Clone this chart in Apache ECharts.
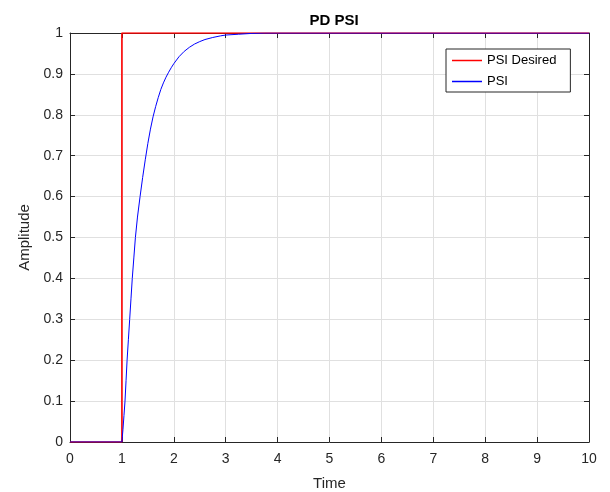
<!DOCTYPE html>
<html>
<head>
<meta charset="utf-8">
<script src="https://cdn.jsdelivr.net/npm/echarts@6/dist/echarts.min.js"></script>
<style>html,body{margin:0;padding:0;background:#fff;}#c{width:610px;height:492px;}</style>
</head>
<body>
<div id="c"></div>
<script>
// Data
const titleText = 'PD PSI';
const xName = 'Time';
const yName = 'Amplitude';
const seriesNames = ['PSI Desired', 'PSI'];
const desiredT = [0, 1, 1, 10];
const desiredV = [0, 0, 1, 1];
const psiT = [0, 1, 1.02, 1.04, 1.06, 1.08, 1.10, 1.125, 1.15, 1.175, 1.20, 1.23, 1.26, 1.30, 1.35, 1.40, 1.45, 1.50, 1.55, 1.60, 1.65, 1.70, 1.75, 1.80, 1.85, 1.90, 1.95, 2.00, 2.10, 2.20, 2.30, 2.40, 2.50, 2.60, 2.75, 2.90, 3.00, 3.25, 3.50, 3.75, 4.00, 10];
const psiV = [0, 0, 0.03, 0.065, 0.10, 0.15, 0.20, 0.25, 0.30, 0.35, 0.40, 0.45, 0.50, 0.55, 0.60, 0.647, 0.69, 0.73, 0.765, 0.795, 0.82, 0.842, 0.862, 0.878, 0.892, 0.904, 0.915, 0.925, 0.942, 0.955, 0.965, 0.973, 0.979, 0.984, 0.989, 0.993, 0.995, 0.997, 0.999, 1, 1, 1];
const xTicks = [0, 10, 1];
const yTicks = [0, 1, 0.1];

const pairs = (a, b) => a.map((v, i) => [v, b[i]]);
const axisColor = '#262626';
const gridColor = '#e0e0e0';
const font = 'Liberation Sans, Arial, Helvetica, sans-serif';

function xAx(pos, main) {
  return {
    type: 'value', position: pos, min: xTicks[0], max: xTicks[1], interval: xTicks[2],
    name: main ? xName : '', nameLocation: 'middle', nameGap: 34,
    nameTextStyle: { color: axisColor, fontSize: 15, fontFamily: font },
    axisLine: { show: true, onZero: false, lineStyle: { color: axisColor, width: 1 } },
    axisTick: { show: true, inside: true, length: 5, lineStyle: { color: axisColor } },
    axisLabel: { show: main, color: axisColor, fontSize: 14, fontFamily: font, margin: 10 },
    splitLine: { show: main, lineStyle: { color: gridColor, width: 1 } }
  };
}
function yAx(pos, main) {
  return {
    type: 'value', position: pos, min: yTicks[0], max: yTicks[1], interval: yTicks[2],
    name: main ? yName : '', nameLocation: 'middle', nameGap: 34,
    nameTextStyle: { color: axisColor, fontSize: 15, fontFamily: font },
    axisLine: { show: true, onZero: false, lineStyle: { color: axisColor, width: 1 } },
    axisTick: { show: true, inside: true, length: 5, lineStyle: { color: axisColor } },
    axisLabel: { show: main, color: axisColor, fontSize: 14, fontFamily: font, margin: 7,
      formatter: v => String(Math.round(v * 10) / 10) },
    splitLine: { show: main, lineStyle: { color: gridColor, width: 1 } }
  };
}

const chart = echarts.init(document.getElementById('c'), null, { renderer: 'canvas' });
chart.setOption({
  animation: false,
  backgroundColor: '#fff',
  title: {
    text: titleText, left: 329, top: 8, textAlign: 'center',
    textStyle: { fontSize: 15, fontWeight: 'bold', color: '#000', fontFamily: font }
  },
  grid: { left: 70, right: 21, top: 33, bottom: 50, containLabel: false, outerBoundsMode: 'none' },
  xAxis: [xAx('bottom', true), xAx('top', false)],
  yAxis: [yAx('left', true), yAx('right', false)],
  legend: {
    left: 446, top: 49, orient: 'vertical',
    padding: [5, 14, 4, 6], itemGap: 8, itemWidth: 30, itemHeight: 1.5,
    borderColor: axisColor, borderWidth: 1, backgroundColor: '#fff',
    textStyle: { color: '#000', fontSize: 13, fontFamily: font },
    data: [{ name: seriesNames[0], icon: 'rect' }, { name: seriesNames[1], icon: 'rect' }]
  },
  series: [
    { name: seriesNames[0], type: 'line', data: pairs(desiredT, desiredV), showSymbol: false,
      color: '#ff0000', lineStyle: { color: '#ff0000', width: 1.6 } },
    { name: seriesNames[1], type: 'line', data: pairs(psiT, psiV), showSymbol: false, smooth: false,
      color: '#0000ff', lineStyle: { color: '#0000ff', width: 1 } }
  ]
});
</script>
</body>
</html>
